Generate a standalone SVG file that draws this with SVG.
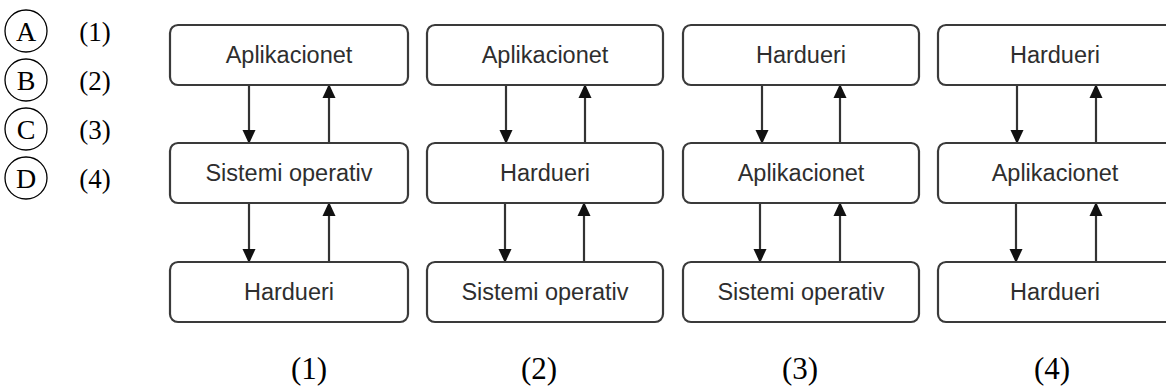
<svg xmlns="http://www.w3.org/2000/svg" width="1166" height="389" viewBox="0 0 1166 389">
<defs>
<style>
.box{fill:#fff;stroke:#3a3a3a;stroke-width:2.2}
.lbl{font-family:"Liberation Sans",Arial,sans-serif;font-size:23.5px;fill:#2e2e2e;text-anchor:middle}
.ser{font-family:"Liberation Serif","Times New Roman",serif;fill:#000;text-anchor:middle}
.con{stroke:#333;stroke-width:2.2;fill:none}
.circ{fill:none;stroke:#000;stroke-width:1.3}
</style>
<marker id="ah" markerUnits="userSpaceOnUse" markerWidth="14" markerHeight="14" viewBox="0 0 14 14" refX="13" refY="7" orient="auto">
<path d="M0,0.5 L14,7 L0,13.5 Z" fill="#111"/>
</marker>
</defs>
<rect width="1166" height="389" fill="#fff"/>

<g id="legend">
<g id="optA"><circle class="circ" cx="26" cy="31" r="21"/><text class="ser" x="26" y="41" font-size="28">A</text><text class="ser" x="95" y="41" font-size="27">(1)</text></g>
<g id="optB"><circle class="circ" cx="26" cy="80" r="21"/><text class="ser" x="26" y="90" font-size="28">B</text><text class="ser" x="95" y="90" font-size="27">(2)</text></g>
<g id="optC"><circle class="circ" cx="26" cy="129" r="21"/><text class="ser" x="26" y="139" font-size="28">C</text><text class="ser" x="95" y="139" font-size="27">(3)</text></g>
<g id="optD"><circle class="circ" cx="26" cy="178" r="21"/><text class="ser" x="26" y="188" font-size="28">D</text><text class="ser" x="95" y="188" font-size="27">(4)</text></g>
</g>

<g id="connectors">
<line class="con" x1="249" y1="85" x2="249" y2="143" marker-end="url(#ah)"/>
<line class="con" x1="329" y1="143" x2="329" y2="85" marker-end="url(#ah)"/>
<line class="con" x1="249" y1="203" x2="249" y2="262" marker-end="url(#ah)"/>
<line class="con" x1="329" y1="262" x2="329" y2="203" marker-end="url(#ah)"/>

<line class="con" x1="506" y1="85" x2="506" y2="143" marker-end="url(#ah)"/>
<line class="con" x1="585" y1="143" x2="585" y2="85" marker-end="url(#ah)"/>
<line class="con" x1="505" y1="203" x2="505" y2="262" marker-end="url(#ah)"/>
<line class="con" x1="584" y1="262" x2="584" y2="203" marker-end="url(#ah)"/>

<line class="con" x1="762" y1="85" x2="762" y2="143" marker-end="url(#ah)"/>
<line class="con" x1="840" y1="143" x2="840" y2="85" marker-end="url(#ah)"/>
<line class="con" x1="760" y1="203" x2="760" y2="262" marker-end="url(#ah)"/>
<line class="con" x1="840" y1="262" x2="840" y2="203" marker-end="url(#ah)"/>

<line class="con" x1="1017" y1="85" x2="1017" y2="143" marker-end="url(#ah)"/>
<line class="con" x1="1096" y1="143" x2="1096" y2="85" marker-end="url(#ah)"/>
<line class="con" x1="1016" y1="203" x2="1016" y2="262" marker-end="url(#ah)"/>
<line class="con" x1="1096" y1="262" x2="1096" y2="203" marker-end="url(#ah)"/>
</g>

<g id="c1top"><rect class="box" x="170" y="25" width="238" height="60" rx="8"/><text class="lbl" x="289" y="63">Aplikacionet</text></g>
<g id="c1mid"><rect class="box" x="170" y="143" width="238" height="60" rx="8"/><text class="lbl" x="289" y="181">Sistemi operativ</text></g>
<g id="c1bot"><rect class="box" x="170" y="262" width="238" height="60" rx="8"/><text class="lbl" x="289" y="300">Hardueri</text></g>

<g id="c2top"><rect class="box" x="427" y="25" width="236" height="60" rx="8"/><text class="lbl" x="545" y="63">Aplikacionet</text></g>
<g id="c2mid"><rect class="box" x="427" y="143" width="236" height="60" rx="8"/><text class="lbl" x="545" y="181">Hardueri</text></g>
<g id="c2bot"><rect class="box" x="427" y="262" width="236" height="60" rx="8"/><text class="lbl" x="545" y="300">Sistemi operativ</text></g>

<g id="c3top"><rect class="box" x="683" y="25" width="236" height="60" rx="8"/><text class="lbl" x="801" y="63">Hardueri</text></g>
<g id="c3mid"><rect class="box" x="683" y="143" width="236" height="60" rx="8"/><text class="lbl" x="801" y="181">Aplikacionet</text></g>
<g id="c3bot"><rect class="box" x="683" y="262" width="236" height="60" rx="8"/><text class="lbl" x="801" y="300">Sistemi operativ</text></g>

<g id="c4top"><rect class="box" x="938" y="25" width="236" height="60" rx="8"/><text class="lbl" x="1055" y="63">Hardueri</text></g>
<g id="c4mid"><rect class="box" x="938" y="143" width="236" height="60" rx="8"/><text class="lbl" x="1055" y="181">Aplikacionet</text></g>
<g id="c4bot"><rect class="box" x="938" y="262" width="236" height="60" rx="8"/><text class="lbl" x="1055" y="300">Hardueri</text></g>

<g id="captions">
<text class="ser" x="309" y="379" font-size="31">(1)</text>
<text class="ser" x="539" y="379" font-size="31">(2)</text>
<text class="ser" x="800" y="379" font-size="31">(3)</text>
<text class="ser" x="1052" y="379" font-size="31">(4)</text>
</g>
</svg>
